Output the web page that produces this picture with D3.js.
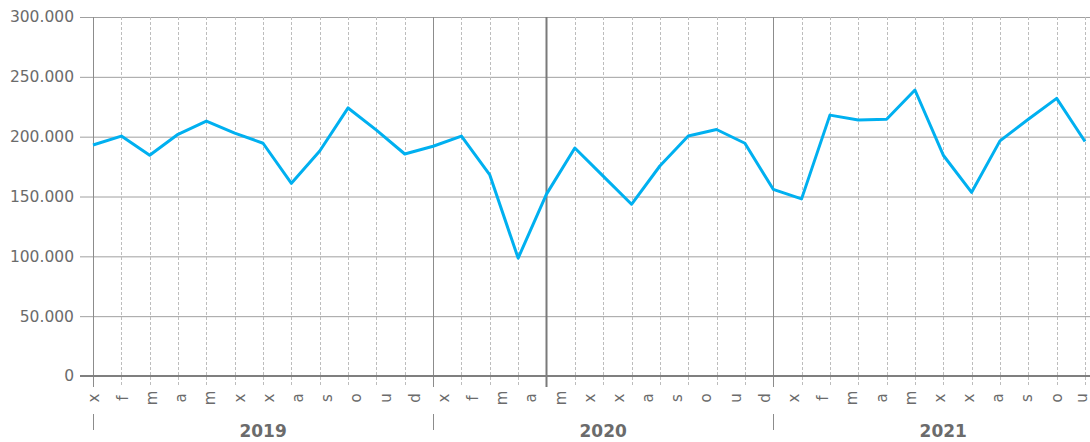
<!DOCTYPE html>
<html><head><meta charset="utf-8">
<script src="https://cdn.jsdelivr.net/npm/d3@7/dist/d3.min.js"></script>
<style>body{margin:0;background:#fff}svg{display:block}text{font-family:"DejaVu Sans",Verdana,sans-serif}</style>
</head><body><svg id="c" width="1090" height="442"></svg>
<script>
const years = ["2019","2020","2021"];
const monthLabels = ["x","f","m","a","m","x","x","a","s","o","u","d",
                     "x","f","m","a","m","x","x","a","s","o","u","d",
                     "x","f","m","a","m","x","x","a","s","o","u"];
const values = [193000,200500,184500,202000,213000,203000,194500,161000,188000,224000,205500,185500,
                192000,200500,168000,98500,152000,190500,167000,143500,175500,200500,206000,194500,
                156000,148000,218000,214000,214500,239000,184500,153500,196500,214500,232000,196000];
const yTicks = [0,50000,100000,150000,200000,250000,300000];
const highlightIndex = 16;

const svg = d3.select("#c");
const L = 93, R = 1085, T = 17, B = 376;
const x = d3.scalePoint().domain(d3.range(values.length)).range([L, R]);
const xl = d3.scalePoint().domain(d3.range(monthLabels.length)).range([L, R]);
const y = d3.scaleLinear().domain([0, 300000]).range([B, T]);
const fmt = v => d3.format(",")(v).replace(/,/g, ".");

// horizontal grid
svg.append("g").selectAll("line").data(yTicks.filter(d=>d>0)).join("line")
  .attr("x1", 80).attr("x2", 1090).attr("y1", d=>y(d)+0.5).attr("y2", d=>y(d)+0.5)
  .attr("stroke", "#a0a0a0").attr("stroke-width", 1);

// vertical grid
const vg = svg.append("g");
vg.selectAll("line").data(d3.range(values.length)).join("line")
  .attr("x1", d=>Math.round(x(d))+0.5).attr("x2", d=>Math.round(x(d))+0.5)
  .attr("y1", T).attr("y2", 387)
  .attr("stroke", d => d%12===0 ? "#8c8c8c" : (d===highlightIndex ? "#7a7a7a" : "#bdbdbd"))
  .attr("stroke-width", d => d===highlightIndex ? 2 : 1)
  .attr("stroke-dasharray", d => (d%12===0 || d===highlightIndex) ? null : "3,2");

// zero line
svg.append("line").attr("x1", 80).attr("x2", 1090).attr("y1", y(0)).attr("y2", y(0))
  .attr("stroke", "#7f7f7f").attr("stroke-width", 2);

// y labels
svg.append("g").selectAll("text").data(yTicks).join("text")
  .attr("x", 74).attr("y", d=>y(d)).attr("dy", "0.35em").attr("text-anchor", "end")
  .attr("font-size", 15.5).attr("fill", "#6b6b6b").text(fmt);

// line
svg.append("path").datum(values)
  .attr("d", d3.line().x((d,i)=>x(i)).y(d=>y(d)))
  .attr("fill", "none").attr("stroke", "#00b0f0").attr("stroke-width", 3)
  .attr("stroke-linejoin", "round");

// month labels
svg.append("g").selectAll("text").data(monthLabels).join("text")
  .attr("transform", (d,i)=>`translate(${Math.min(xl(i)+0.5, 1082)},398) rotate(-90)`)
  .attr("text-anchor", "middle").attr("dy", "0.35em")
  .attr("font-size", 15).attr("fill", "#6b6b6b").text(d=>d);

// year ticks and labels
const step = x.step();
svg.append("g").selectAll("line").data(years).join("line")
  .attr("x1", (d,i)=>Math.round(x(i*12))+0.5).attr("x2", (d,i)=>Math.round(x(i*12))+0.5)
  .attr("y1", 414).attr("y2", 430).attr("stroke", "#8c8c8c");
svg.append("g").selectAll("text").data(years).join("text")
  .attr("x", (d,i)=>x(i*12) + step*6).attr("y", 437).attr("text-anchor", "middle")
  .attr("font-size", 17).attr("font-weight", "bold").attr("fill", "#6b6b6b").text(d=>d);
</script></body></html>
